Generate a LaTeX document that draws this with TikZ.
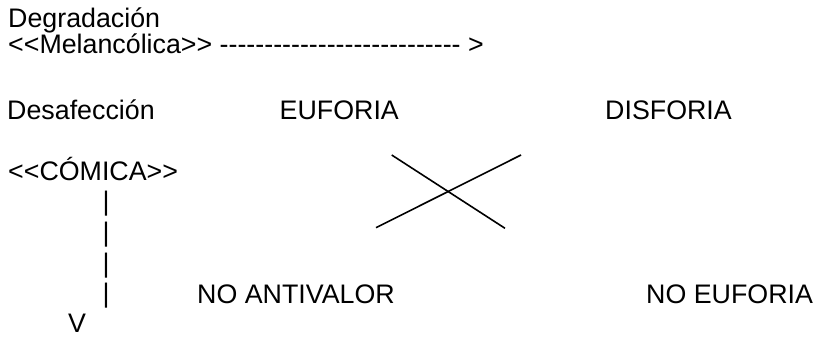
\documentclass[tikz,border=0pt]{standalone}
\usepackage{fontspec}
\setmainfont{Liberation Sans}
\newcommand\brk{\kern0pt}
\begin{document}
\begin{tikzpicture}[x=1pt,y=-1pt,
  txt/.style={anchor=base west, inner sep=0pt, font=\fontsize{26.8}{31}\selectfont},
  barchar/.style={anchor=base, inner sep=0pt, font=\fontsize{26.8}{31}\selectfont},
  crossline/.style={line width=1.6pt, black}]
\useasboundingbox (0,0) rectangle (814,337);
\node[txt] (deg) at (8,28) {Degradación};
\node[txt] (mel) at (8,54) {<\brk<Melancólica>\brk> -\brk-\brk-\brk-\brk-\brk-\brk-\brk-\brk-\brk-\brk-\brk-\brk-\brk-\brk-\brk-\brk-\brk-\brk-\brk-\brk-\brk-\brk-\brk-\brk-\brk-\brk- >};
\node[txt] (des) at (7,119) {Desafección};
\node[txt] (euf) at (279.5,119) {EUFORIA};
\node[txt] (dis) at (605,119) {DISFORIA};
\node[txt] (com) at (8,180) {<\brk<CÓMICA>\brk>};
\node[barchar] (b1) at (106,210) {|};
\node[barchar] (b2) at (106,241) {|};
\node[barchar] (b3) at (106,272) {|};
\node[barchar] (b4) at (106,302) {|};
\node[barchar, text depth=0pt] (v) at (77,332.5) {V};
\node[txt] (noa) at (197,303) {NO ANTIVALOR};
\node[txt] (noe) at (646,303) {NO EUFORIA};
\coordinate (xa1) at (391.7,155);
\coordinate (xa2) at (505,228.3);
\coordinate (xb1) at (376,227.7);
\coordinate (xb2) at (521,155);
\draw[crossline] (xa1) -- (xa2);
\draw[crossline] (xb1) -- (xb2);
\end{tikzpicture}
\end{document}
